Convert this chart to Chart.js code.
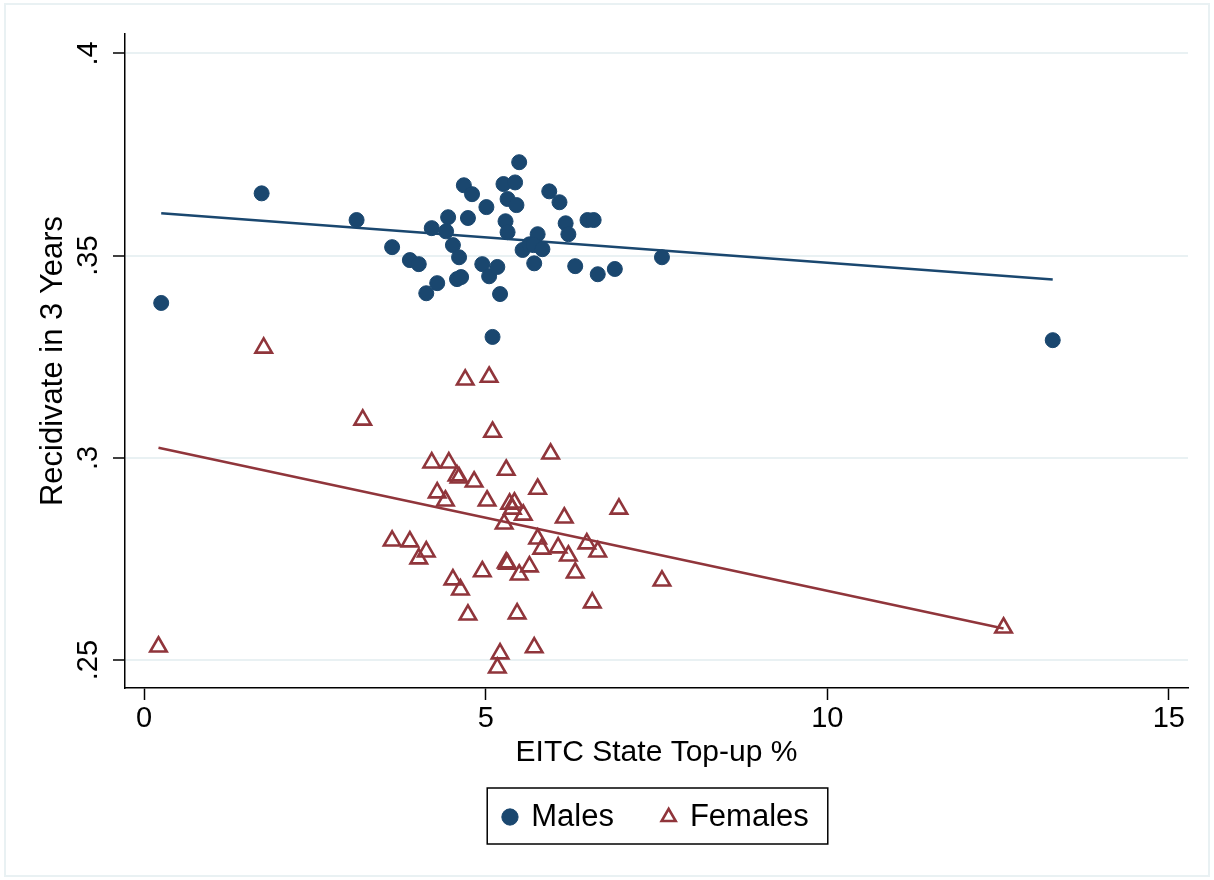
<!DOCTYPE html>
<html>
<head>
<meta charset="utf-8">
<title>Recidivism vs EITC top-up</title>
<script src="https://cdn.jsdelivr.net/npm/chart.js@4.4.1/dist/chart.umd.min.js"></script>
<style>
  body { margin: 0; background: #fff; }
  canvas { display: block; }
</style>
</head>
<body>
<canvas id="recidChart" width="1214" height="880"></canvas>
<script>
// =================[Data]=============
const maleX = [
    0.25, 1.72, 3.11, 3.63, 3.89, 4.02, 4.13, 4.29, 4.21, 4.45,
    4.42, 4.52, 4.61, 4.58, 4.64, 4.68, 4.80, 4.74, 5.01, 4.95,
    5.05, 5.17, 5.21, 5.10, 5.29, 5.32, 5.26, 5.43, 5.49, 5.32,
    5.45, 5.54, 5.64, 5.76, 5.70, 5.83, 5.71, 5.93, 6.08, 6.17,
    6.21, 6.31, 6.49, 6.58, 6.64, 6.89, 7.58, 13.30
];
const maleY = [
    .3383, .3654, .3588, .3521, .3489, .3479, .3407, .3432, .3568, .3595,
    .3560, .3526, .3496, .3442, .3447, .3674, .3652, .3593, .3620, .3479,
    .3449, .3472, .3405, .3299, .3585, .3558, .3677, .3681, .3731, .3640,
    .3625, .3514, .3528, .3553, .3526, .3516, .3481, .3659, .3632, .3580,
    .3553, .3474, .3588, .3588, .3454, .3467, .3496, .3291
];

const femaleX = [
    0.21, 1.75, 3.20, 4.70, 5.05, 5.10, 4.21, 4.46, 4.58, 4.61,
    4.83, 4.29, 4.41, 5.02, 5.30, 5.35, 5.42, 5.39, 5.55, 5.27,
    5.76, 5.95, 6.15, 6.95, 3.63, 3.89, 4.02, 4.13, 4.52, 4.63,
    4.74, 4.95, 5.21, 5.17, 5.30, 5.32, 5.46, 5.49, 5.64, 5.71,
    5.76, 5.82, 6.06, 6.21, 6.31, 6.48, 6.64, 6.56, 7.58, 12.58
];
const femaleY = [
    .2533, .3272, .3094, .3193, .3200, .3064, .2988, .2988, .2956, .2951,
    .2941, .2914, .2894, .2894, .2970, .2886, .2889, .2874, .2859, .2837,
    .2923, .3010, .2852, .2874, .2795, .2793, .2751, .2768, .2699, .2674,
    .2612, .2719, .2516, .2481, .2741, .2738, .2615, .2711, .2731, .2531,
    .2800, .2775, .2778, .2758, .2716, .2788, .2768, .2642, .2696, .2580
];

// fitted lines (ends)
const maleFitX = [0.25, 13.30];
const maleFitY = [.3605, .3441];
const femaleFitX = [0.21, 12.58];
const femaleFitY = [.3025, .2578];

const xTicks = [0, 5, 10, 15];
const yTicks = [.25, .3, .35, .4];

const toPoints = (xs, ys) => xs.map((x, i) => ({ x: x, y: ys[i] }));

// =================[Colours / fonts]=============
const navy = '#1a476f';
const maroon = '#90353b';
const gridBlue = '#e9f1f3';
const fontFam = '"Liberation Sans", Arial, Helvetica, sans-serif';

// ==================[Plugins: background, frame, legend box]==================
const frame = {
    id: 'frame',
    beforeDraw(chart) {
        const ctx = chart.ctx;
        ctx.save();
        ctx.fillStyle = '#fff';
        ctx.fillRect(0, 0, chart.width, chart.height);
        ctx.strokeStyle = gridBlue;
        ctx.lineWidth = 2;
        ctx.strokeRect(5, 4, chart.width - 10, chart.height - 8);
        ctx.restore();
    },
    afterLayout(chart) {
        // Stata centres the legend under the plot region
        chart.legend.left = chart.chartArea.left;
        chart.legend.right = chart.chartArea.right;
    },
    afterDraw(chart) {
        const hb = chart.legend.legendHitBoxes;
        if (!hb || !hb.length) return;
        const first = hb[0];
        const last = hb[hb.length - 1];
        const mid = first.top + first.height / 2;
        const ctx = chart.ctx;
        ctx.save();
        ctx.strokeStyle = '#000';
        ctx.lineWidth = 1.5;
        const l = first.left - 17;
        const r = last.left + last.width + 19;
        ctx.strokeRect(l, mid - 29, r - l, 56);
        ctx.restore();
    }
};

// ==================[Chart]==================
const config = {
    type: 'scatter',
    data: {
        datasets: [{
            label: 'Males',
            data: toPoints(maleX, maleY),
            pointStyle: 'circle',
            pointRadius: 7.5,
            backgroundColor: navy,
            borderColor: navy,
            borderWidth: 1
        }, {
            label: 'Females',
            data: toPoints(femaleX, femaleY),
            pointStyle: 'triangle',
            pointRadius: 9.5,
            backgroundColor: 'rgba(255,255,255,0)',
            borderColor: maroon,
            borderWidth: 2.6
        }, {
            label: 'fit males',
            data: toPoints(maleFitX, maleFitY),
            showLine: true,
            pointRadius: 0,
            borderColor: navy,
            borderWidth: 2.5
        }, {
            label: 'fit females',
            data: toPoints(femaleFitX, femaleFitY),
            showLine: true,
            pointRadius: 0,
            borderColor: maroon,
            borderWidth: 2.5
        }]
    },
    options: {
        responsive: false,
        devicePixelRatio: 1,
        animation: false,
        events: [],
        layout: { padding: { top: 34, right: 26, left: 0, bottom: 37.5 } },
        plugins: {
            tooltip: { enabled: false },
            legend: {
                position: 'bottom',
                labels: {
                    usePointStyle: true,
                    boxWidth: 11.5,
                    boxHeight: 11.5,
                    padding: 49,
                    color: '#000',
                    font: { family: fontFam, size: 31 },
                    filter: item => item.datasetIndex < 2
                }
            }
        },
        scales: {
            x: {
                type: 'linear',
                min: -0.28,
                max: 15.28,
                afterBuildTicks: s => { s.ticks = xTicks.map(v => ({ value: v })); },
                afterFit: s => { s.height = 64.5; },
                ticks: {
                    autoSkip: false,
                    maxRotation: 0,
                    padding: 2,
                    color: '#000',
                    font: { family: fontFam, size: 29 },
                    callback: v => String(v)
                },
                grid: {
                    drawOnChartArea: false,
                    tickLength: 12,
                    tickColor: '#000',
                    tickWidth: 1.5
                },
                border: { display: true, color: '#000', width: 1.5 },
                title: {
                    display: true,
                    text: 'EITC State Top-up %',
                    color: '#000',
                    font: { family: fontFam, size: 30, lineHeight: 1 },
                    padding: { top: 0, bottom: -15.5 }
                }
            },
            y: {
                type: 'linear',
                min: 0.2431,
                max: 0.4048,
                afterBuildTicks: s => { s.ticks = yTicks.map(v => ({ value: v })); },
                afterFit: s => { s.width = 125; },
                ticks: {
                    autoSkip: false,
                    minRotation: 90,
                    maxRotation: 90,
                    crossAlign: 'center',
                    padding: 4,
                    color: '#000',
                    font: { family: fontFam, size: 29 },
                    callback: v => String(v).replace(/^0\./, '.')
                },
                grid: {
                    color: gridBlue,
                    lineWidth: 2,
                    tickLength: 12,
                    tickColor: '#000',
                    tickWidth: 1.5
                },
                border: { display: true, color: '#000', width: 1.5 },
                title: {
                    display: true,
                    text: 'Recidivate in 3 Years',
                    color: '#000',
                    font: { family: fontFam, size: 31, lineHeight: 1 },
                    padding: { top: 38, bottom: 0 }
                }
            }
        }
    },
    plugins: [frame]
};

const recidChart = new Chart(document.getElementById('recidChart'), config);
</script>
</body>
</html>
